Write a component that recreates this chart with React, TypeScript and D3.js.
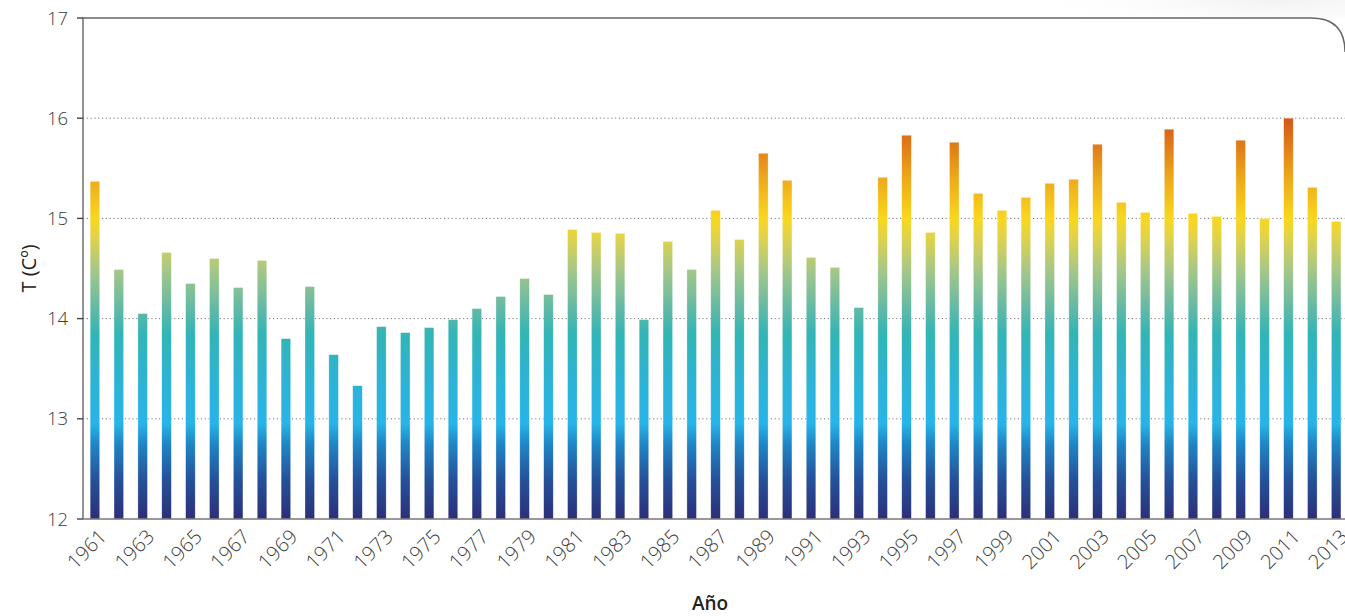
import React from "react";
import * as d3 from "d3";

const years: number[] = [
  1961, 1962, 1963, 1964, 1965, 1966, 1967, 1968, 1969, 1970,
  1971, 1972, 1973, 1974, 1975, 1976, 1977, 1978, 1979, 1980,
  1981, 1982, 1983, 1984, 1985, 1986, 1987, 1988, 1989, 1990,
  1991, 1992, 1993, 1994, 1995, 1996, 1997, 1998, 1999, 2000,
  2001, 2002, 2003, 2004, 2005, 2006, 2007, 2008, 2009, 2010,
  2011, 2012, 2013,
];

const temperatures: number[] = [
  15.37, 14.49, 14.05, 14.66, 14.35, 14.6, 14.31, 14.58, 13.8, 14.32,
  13.64, 13.33, 13.92, 13.86, 13.91, 13.99, 14.1, 14.22, 14.4, 14.24,
  14.89, 14.86, 14.85, 13.99, 14.77, 14.49, 15.08, 14.79, 15.65, 15.38,
  14.61, 14.51, 14.11, 15.41, 15.83, 14.86, 15.76, 15.25, 15.08, 15.21,
  15.35, 15.39, 15.74, 15.16, 15.06, 15.89, 15.05, 15.02, 15.78, 15.0,
  16.0, 15.31, 14.97,
];

const yTicks: number[] = [12, 13, 14, 15, 16, 17];
const gridTicks: number[] = [13, 14, 15, 16];

// colour stops keyed on temperature value
const stopValues: number[] = [12.0, 12.4, 12.75, 12.95, 13.4, 13.85, 14.1, 14.5, 14.8, 15.0, 15.4, 16.0];
const stopColors: string[] = [
  "#2b2f77", "#25529a", "#1f86c6", "#27b4e8", "#2db3d4", "#32b5b5",
  "#62b9a6", "#a8c886", "#dfd24c", "#f9d71d", "#eda91a", "#d55617",
];

const W = 1345;
const H = 616;
const M = { left: 83, top: 18, bottom: 519 };

export default function App() {
  const step = 23.87;
  const x = d3
    .scaleBand<number>()
    .domain(years)
    .range([M.left, M.left + step * years.length])
    .paddingInner(0.6)
    .paddingOuter(0.3);
  const y = d3.scaleLinear().domain([12, 17]).range([M.bottom, M.top]);

  const r = 34;
  const framePath = `M${M.left},${M.bottom} L${M.left},${M.top} L${W - r},${M.top} Q${W},${M.top} ${W},${M.top + r}`;

  const font = "'Open Sans', 'Noto Sans', sans-serif";

  return (
    <div style={{ position: "fixed", left: 0, top: 0, width: W, height: H, background: "#ffffff" }}>
      <svg width={W} height={H} style={{ display: "block" }}>
        <defs>
          <linearGradient id="tgrad" gradientUnits="userSpaceOnUse" x1={0} x2={0} y1={y(12)} y2={y(16)}>
            {stopValues.map((v, i) => (
              <stop key={i} offset={(v - 12) / 4} stopColor={stopColors[i]} />
            ))}
          </linearGradient>
          <radialGradient id="bgswoosh" cx="0.85" cy="0" r="0.6">
            <stop offset="0" stopColor="#eeeeee" stopOpacity={0.8} />
            <stop offset="1" stopColor="#ffffff" stopOpacity={0} />
          </radialGradient>
        </defs>
        <rect x={0} y={0} width={W} height={H} fill="#ffffff" />
        <rect x={900} y={0} width={445} height={60} fill="url(#bgswoosh)" />
        <rect x={M.left} y={M.top} width={W - M.left} height={M.bottom - M.top} fill="#ffffff" />

        {/* grid */}
        {gridTicks.map((t) => (
          <line
            key={t}
            x1={M.left}
            x2={W}
            y1={y(t)}
            y2={y(t)}
            stroke="#777"
            strokeWidth={1}
            strokeDasharray="1.2,2.6"
          />
        ))}

        {/* bars */}
        {years.map((yr, i) => (
          <rect
            key={yr}
            x={x(yr)}
            y={y(temperatures[i])}
            width={x.bandwidth()}
            height={y(12) - y(temperatures[i])}
            fill="url(#tgrad)"
            stroke="#ffffff"
            strokeOpacity={0.5}
            strokeWidth={0.6}
          />
        ))}

        {/* frame */}
        <path d={framePath} fill="none" stroke="#666" strokeWidth={1.4} />
        <line x1={M.left} x2={W} y1={M.bottom} y2={M.bottom} stroke="#777" strokeWidth={1.6} />

        {/* y ticks */}
        {yTicks.map((t) => (
          <g key={t} transform={`translate(0,${y(t)})`}>
            <line x1={77} x2={M.left} stroke="#444" strokeWidth={1.4} />
            <text
              x={68}
              dy="0.36em"
              textAnchor="end"
              fontFamily={font}
              fontSize={18.5}
              fontWeight={300}
              fill="#3a3a3a"
            >
              {t}
            </text>
          </g>
        ))}

        {/* x labels */}
        {years.map((yr, i) =>
          i % 2 === 0 ? (
            <text
              key={yr}
              transform={`translate(${(x(yr) as number) + x.bandwidth() / 2 + 8},${M.bottom + 14}) rotate(-45)`}
              textAnchor="end"
              dy="0.35em"
              fontFamily={font}
              fontSize={20}
              fontWeight={300}
              fill="#3a3a3a"
            >
              {yr}
            </text>
          ) : null
        )}

        {/* axis titles */}
        <text
          x={710}
          y={610}
          textAnchor="middle"
          fontFamily={font}
          fontSize={19}
          fontWeight={600}
          fill="#222"
        >
          Año
        </text>
        <text
          transform={`translate(36,${(M.top + M.bottom) / 2}) rotate(-90)`}
          textAnchor="middle"
          fontFamily={font}
          fontSize={20}
          fontWeight={500}
          fill="#222"
        >
          T (Cº)
        </text>
      </svg>
    </div>
  );
}
